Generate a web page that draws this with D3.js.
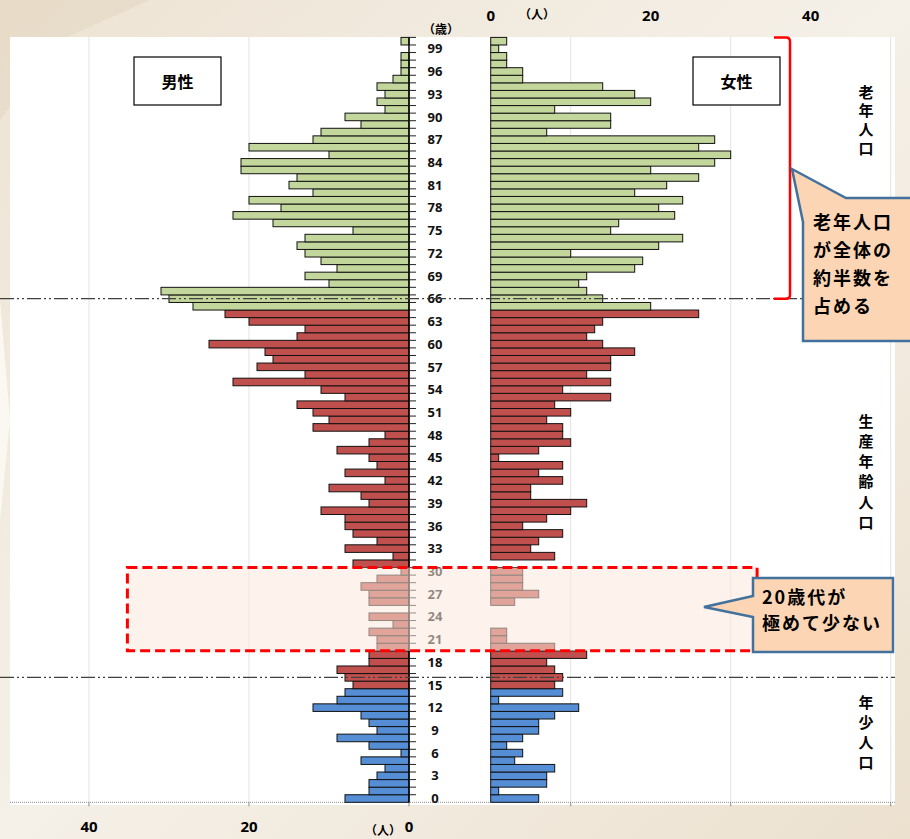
<!DOCTYPE html>
<html>
<head>
<meta charset="utf-8">
<script src="https://cdn.jsdelivr.net/npm/d3@7"></script>
<style>
  body { margin: 0; background: #f1e9dc; }
  svg { display: block; font-family: "Noto Sans CJK JP", "Noto Sans", sans-serif; }
</style>
</head>
<body>
<div id="pyramid"></div>
<script>
// ages 0..100 (top row = 100歳以上)
const ages = d3.range(0, 101);

// 男性 (人) by age 0..100
const male = [8, 5, 5, 4, 3, 6, 1, 5, 9, 4,
  5, 6, 12, 9, 8, 7, 8, 9, 5, 5,
  4, 4, 5, 2, 5, 0, 5, 5, 6, 4,
  1, 7, 2, 8, 4, 7, 8, 8, 11, 5,
  6, 10, 3, 8, 4, 5, 9, 5, 3, 12,
  10, 12, 14, 8, 11, 22, 13, 19, 17, 18,
  25, 14, 13, 20, 23, 27, 30, 31, 10, 13,
  9, 11, 13, 14, 13, 7, 17, 22, 16, 20,
  12, 15, 14, 21, 21, 10, 20, 12, 11, 6,
  8, 3, 4, 3, 4, 2, 1, 1, 1, 0,
  1];

// 女性 (人) by age 0..100
const female = [6, 1, 7, 7, 8, 3, 4, 2, 4, 6,
  6, 8, 11, 1, 9, 8, 9, 8, 7, 12,
  8, 2, 2, 0, 0, 0, 3, 6, 4, 4,
  4, 0, 8, 5, 6, 9, 4, 7, 10, 12,
  5, 5, 9, 6, 9, 1, 6, 10, 9, 9,
  7, 10, 8, 15, 9, 15, 12, 15, 15, 18,
  14, 12, 13, 14, 26, 20, 14, 12, 11, 12,
  18, 19, 10, 21, 24, 15, 16, 23, 21, 24,
  18, 22, 26, 20, 28, 30, 26, 28, 7, 15,
  15, 8, 20, 18, 14, 4, 4, 2, 2, 1,
  2];

const ageTicks = d3.range(0, 100, 3);
const leftTickLabels = [40, 20, 0];
const rightTickLabels = [0, 20, 40];
const leftGrid = [20, 40];
const rightGrid = [10, 30, 50];
const groupLabels = [
  {name: "老年人口", from: 93.3, to: 85.9},
  {name: "生産年齢人口", from: 49.8, to: 36.5},
  {name: "年少人口", from: 12.7, to: 4.8}
];

const width = 910, height = 839;

const svg = d3.select("#pyramid").append("svg")
  .attr("width", width)
  .attr("height", height);

// scales
const y = d3.scaleBand().domain(ages.slice().reverse()).range([37.4, 802.3]).padding(0);
const xL = d3.scaleLinear().domain([0, 50]).range([409, 9]);
const xR = d3.scaleLinear().domain([0, 50]).range([490.7, 890.7]);
const yc = a => y(a) + y.bandwidth() / 2;
const yv = d3.scaleLinear().domain([0, 100]).range([yc(0), yc(100)]);

function barColor(age) {
  if (age >= 65) return "#c3d69b";
  if (age >= 15) return "#c0504d";
  return "#558ed5";
}

// slide background
const defs = svg.append("defs");
const grad = defs.append("linearGradient").attr("id", "bg").attr("x1", 0).attr("y1", 0).attr("x2", 1).attr("y2", 1);
grad.append("stop").attr("offset", "0%").attr("stop-color", "#ede3d3");
grad.append("stop").attr("offset", "50%").attr("stop-color", "#f5f0e8");
grad.append("stop").attr("offset", "100%").attr("stop-color", "#ece1cf");
svg.append("rect").attr("width", width).attr("height", height).attr("fill", "url(#bg)");
svg.append("path").attr("d", "M0,0 L150,0 L60,40 L0,120 Z").attr("fill", "#e6d9c4").attr("opacity", 0.7);
svg.append("path").attr("d", "M0,300 L10,420 L0,520 Z").attr("fill", "#fbf8f2");

// plot area
svg.append("rect")
  .attr("x", 10).attr("y", 37)
  .attr("width", 885).attr("height", 768)
  .attr("fill", "#ffffff");

// gridlines
svg.append("g").selectAll("line")
  .data(leftGrid)
  .enter().append("line")
  .attr("x1", d => xL(d)).attr("x2", d => xL(d))
  .attr("y1", 37).attr("y2", y.range()[1])
  .attr("stroke", "#e3e3e3");
svg.append("g").selectAll("line")
  .data(rightGrid)
  .enter().append("line")
  .attr("x1", d => xR(d)).attr("x2", d => xR(d))
  .attr("y1", 37).attr("y2", y.range()[1])
  .attr("stroke", "#e3e3e3");

// bottom dotted axis + ticks
svg.append("line")
  .attr("x1", 10).attr("x2", 895)
  .attr("y1", y.range()[1]).attr("y2", y.range()[1])
  .attr("stroke", "#8c8c8c").attr("stroke-dasharray", "1,1");
svg.append("g").selectAll("line")
  .data([0, 20, 40])
  .enter().append("line")
  .attr("x1", d => xL(d)).attr("x2", d => xL(d))
  .attr("y1", y.range()[1]).attr("y2", y.range()[1] + 4)
  .attr("stroke", "#8c8c8c");
svg.append("g").selectAll("line")
  .data(rightGrid)
  .enter().append("line")
  .attr("x1", d => xR(d)).attr("x2", d => xR(d))
  .attr("y1", y.range()[1]).attr("y2", y.range()[1] + 4)
  .attr("stroke", "#8c8c8c");

// bars
svg.append("g").selectAll("rect")
  .data(ages)
  .enter().append("rect")
  .attr("x", d => xL(male[d]))
  .attr("y", d => y(d))
  .attr("width", d => xL(0) - xL(male[d]))
  .attr("height", y.bandwidth())
  .attr("fill", d => barColor(d))
  .attr("stroke", "#111")
  .attr("stroke-width", 1);

svg.append("g").selectAll("rect")
  .data(ages)
  .enter().append("rect")
  .attr("x", xR(0))
  .attr("y", d => y(d))
  .attr("width", d => xR(female[d]) - xR(0))
  .attr("height", y.bandwidth())
  .attr("fill", d => barColor(d))
  .attr("stroke", "#111")
  .attr("stroke-width", 1);

// left axis line with row ticks
svg.append("line")
  .attr("x1", xL(0)).attr("x2", xL(0))
  .attr("y1", y.range()[0]).attr("y2", y.range()[1])
  .attr("stroke", "#000").attr("stroke-width", 1.5);
svg.append("g").selectAll("line")
  .data(ages)
  .enter().append("line")
  .attr("x1", xL(0)).attr("x2", xL(0) + 7)
  .attr("y1", d => y(d)).attr("y2", d => y(d))
  .attr("stroke", "#222");

// age labels
svg.append("g").selectAll("text")
  .data(ageTicks)
  .enter().append("text")
  .attr("x", 435)
  .attr("y", d => yc(d))
  .attr("dy", "0.36em")
  .attr("text-anchor", "middle")
  .attr("font-size", 13)
  .attr("font-weight", "bold")
  .attr("font-family", "Noto Sans, sans-serif")
  .attr("fill", "#111")
  .text(d => d);
svg.append("text")
  .attr("x", 441).attr("y", 34)
  .attr("text-anchor", "middle")
  .attr("font-size", 12).attr("font-weight", "bold")
  .text("（歳）");

// axis labels (top right, bottom left)
svg.append("g").selectAll("text")
  .data(rightTickLabels)
  .enter().append("text")
  .attr("x", d => xR(d))
  .attr("y", 21)
  .attr("text-anchor", "middle")
  .attr("font-size", 15).attr("font-weight", "bold")
  .attr("font-family", "Noto Sans, sans-serif")
  .text(d => d);
svg.append("text")
  .attr("x", 537).attr("y", 19)
  .attr("text-anchor", "middle")
  .attr("font-size", 12).attr("font-weight", "bold")
  .text("（人）");
svg.append("g").selectAll("text")
  .data(leftTickLabels)
  .enter().append("text")
  .attr("x", d => xL(d))
  .attr("y", 832)
  .attr("text-anchor", "middle")
  .attr("font-size", 15).attr("font-weight", "bold")
  .attr("font-family", "Noto Sans, sans-serif")
  .text(d => d);
svg.append("text")
  .attr("x", 383).attr("y", 835)
  .attr("text-anchor", "middle")
  .attr("font-size", 12).attr("font-weight", "bold")
  .text("（人）");

// 男性 / 女性 boxes
[{t: "男性", x: 134}, {t: "女性", x: 693}].forEach(b => {
  svg.append("rect")
    .attr("x", b.x).attr("y", 57).attr("width", 87).attr("height", 48)
    .attr("fill", "#fff").attr("stroke", "#000").attr("stroke-width", 1.2);
  svg.append("text")
    .attr("x", b.x + 43.5).attr("y", 82)
    .attr("dy", "0.36em")
    .attr("text-anchor", "middle")
    .attr("font-size", 16).attr("font-weight", "bold")
    .text(b.t);
});

// dash-dot separators at 66 and 16
svg.append("g").selectAll("line")
  .data([66, 16])
  .enter().append("line")
  .attr("x1", 0).attr("x2", 895)
  .attr("y1", d => yc(d)).attr("y2", d => yc(d))
  .attr("stroke", "#404040").attr("stroke-width", 1.2)
  .attr("stroke-dasharray", "14,3,2,3,2,3");

// 20歳代 highlight
svg.append("rect")
  .attr("x", xL(35.2))
  .attr("y", y(30))
  .attr("width", xR(33.3) - xL(35.2))
  .attr("height", y(20) + y.bandwidth() - y(30))
  .attr("fill", "#fce9dc").attr("fill-opacity", 0.55)
  .attr("stroke", "#ff0000").attr("stroke-width", 3)
  .attr("stroke-dasharray", "10,5");

// group labels, written vertically
const fs = 15;
groupLabels.forEach(g => {
  const n = Array.from(g.name).length;
  const step = (yv(g.to) - yv(g.from)) / (n - 1);
  svg.append("text")
    .attr("x", 866)
    .attr("y", yv(g.from) - fs / 2)
    .attr("font-size", fs).attr("font-weight", "bold")
    .style("writing-mode", "vertical-rl")
    .style("text-orientation", "upright")
    .attr("letter-spacing", step - fs)
    .text(g.name);
});

// red bracket for 老年人口
svg.append("path")
  .attr("d", `M774,${y(100)} L786,${y(100)} Q790,${y(100)} 790,${y(100) + 4} L790,${yc(66) - 4} Q790,${yc(66)} 786,${yc(66)} L774,${yc(66)}`)
  .attr("fill", "none").attr("stroke", "#ff0000").attr("stroke-width", 2.5);

// callout 1
svg.append("path")
  .attr("d", "M803,222 L792,169 L846,198 L912,198 L912,341 L803,341 Z")
  .attr("fill", "#fcd5b5").attr("stroke", "#41719c").attr("stroke-width", 2.5);
["老年人口", "が全体の", "約半数を", "占める"].forEach((t, i) => {
  svg.append("text")
    .attr("x", 813).attr("y", 229 + i * 28)
    .attr("font-size", 18).attr("font-weight", "bold")
    .attr("letter-spacing", 2)
    .text(t);
});

// callout 2
svg.append("path")
  .attr("d", "M753,578 L893,578 L893,652 L753,652 L753,617 L704,607 L753,596 Z")
  .attr("fill", "#fcd5b5").attr("stroke", "#41719c").attr("stroke-width", 2.5);
["20歳代が", "極めて少ない"].forEach((t, i) => {
  svg.append("text")
    .attr("x", 762).attr("y", 604 + i * 26)
    .attr("font-size", 18).attr("font-weight", "bold")
    .attr("letter-spacing", 2)
    .text(t);
});
</script>
</body>
</html>
